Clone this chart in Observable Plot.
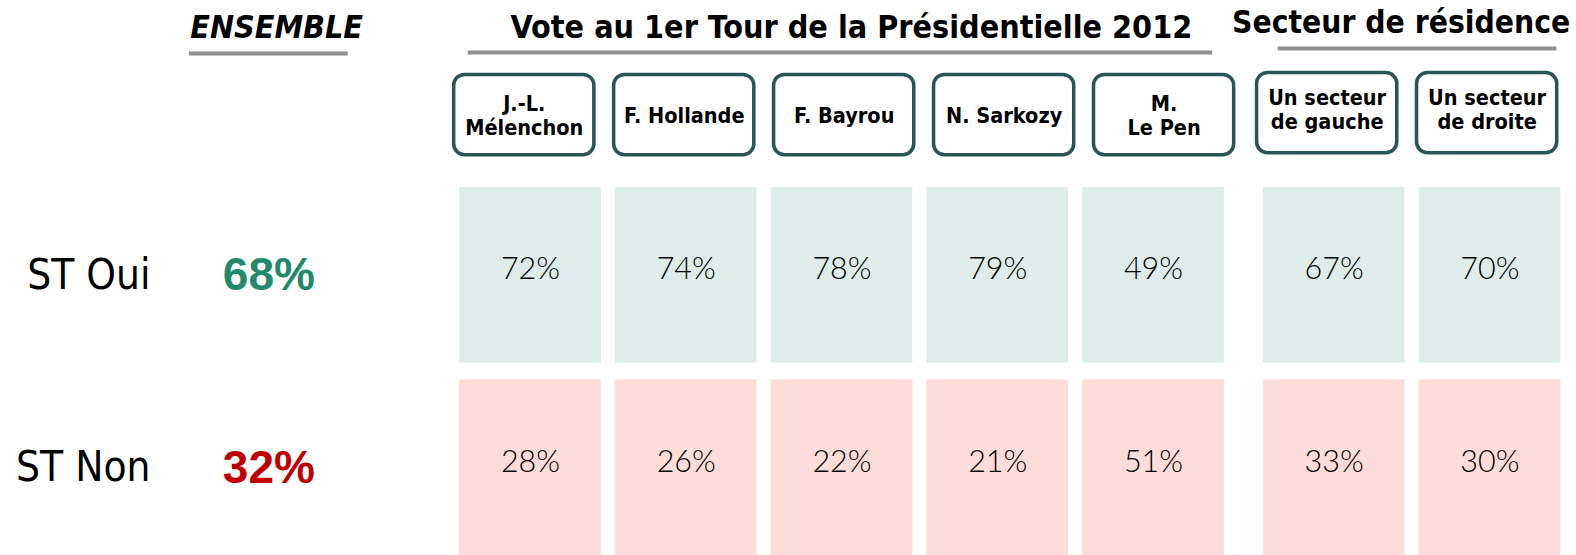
<!DOCTYPE html>
<html>
<head>
<meta charset="utf-8">
<script src="https://cdn.jsdelivr.net/npm/d3@7"></script>
<script src="https://cdn.jsdelivr.net/npm/@observablehq/plot@0.6"></script>
<style>
  html, body { margin: 0; padding: 0; background: #ffffff; }
  #chart svg { display: block; }
</style>
</head>
<body>
<div id="chart"></div>
<script>
// ---------- DATA ----------
const groupTitles = ["ENSEMBLE", "Vote au 1er Tour de la Présidentielle 2012", "Secteur de résidence"];
const columns = ["J.-L.\nMélenchon", "F. Hollande", "F. Bayrou", "N. Sarkozy", "M.\nLe Pen", "Un secteur\nde gauche", "Un secteur\nde droite"];
const columnGroup = [1, 1, 1, 1, 1, 2, 2];
const rows = ["ST Oui", "ST Non"];
const ensemble = [68, 32];
const stOui = [72, 74, 78, 79, 49, 67, 70];
const stNon = [28, 26, 22, 21, 51, 33, 30];

// ---------- LAYOUT (scale units) ----------
const GROUP_GAP = 0.16;           // extra gap before the "Secteur" group
const colU = i => i + (columnGroup[i] === 2 ? GROUP_GAP : 0);
const CELL_HALF = 0.455;
const ROW_H = 0.912;
const BOX_HALF = 0.45;
const boxU = i => -0.04 + 1.027 * i + (columnGroup[i] === 2 ? 0.02 : 0);
const ENS_U = -1.68;
const LABEL_U = -2.44;
// vertical units (row index space)
const Y_TITLE = [-0.779, -0.779, -0.805];
const Y_RULE = [-0.696, -0.701, -0.722];
const RULE_SPAN = [[-2.19, -1.17], [-0.40, 4.38], [4.80, 6.59]];
const TITLE_U = [-1.63, 2.06, 5.59];
const TITLE_SIZE = [32, 32, 31.5];
const BOX_Y1 = -0.585, BOX_Y2 = -0.168;
const BOX_TEXT_Y = [-0.374, -0.374, -0.405];

const COND = "'DejaVu Sans Condensed', 'DejaVu Sans', sans-serif";
const VALUE_FONT = "Lato, 'Open Sans', sans-serif";

const cells = rows.flatMap((row, r) => (r === 0 ? stOui : stNon).map((v, i) => ({row, r, i, v})));
const ens = rows.map((row, r) => ({row, r, v: ensemble[r]}));
const cols = columns.map((label, i) => ({label, i, g: columnGroup[i]}));
const grps = groupTitles.map((title, k) => ({title, k}));

const chart = Plot.plot({
  width: 1576,
  height: 555,
  margin: 0,
  style: {background: "#ffffff"},
  x: {type: "linear", domain: [0, 4], range: [530, 1153], axis: null},
  y: {type: "linear", domain: [0, 1], range: [187, 379.5], axis: null},
  marks: [
    // group titles
    Plot.text(grps.filter(d => d.k === 0), {
      x: d => TITLE_U[d.k], y: d => Y_TITLE[d.k], text: "title",
      lineAnchor: "bottom", fontFamily: COND, fontWeight: "bold", fontStyle: "italic",
      fontSize: TITLE_SIZE[0], fill: "#000"
    }),
    Plot.text(grps.filter(d => d.k === 1), {
      x: d => TITLE_U[d.k], y: d => Y_TITLE[d.k], text: "title",
      lineAnchor: "bottom", fontFamily: COND, fontWeight: "bold",
      fontSize: TITLE_SIZE[1], fill: "#000"
    }),
    Plot.text(grps.filter(d => d.k === 2), {
      x: d => TITLE_U[d.k], y: d => Y_TITLE[d.k], text: "title",
      lineAnchor: "bottom", fontFamily: COND, fontWeight: "bold",
      fontSize: TITLE_SIZE[2], fill: "#000"
    }),
    // underlines
    Plot.ruleY(grps, {
      y: d => Y_RULE[d.k], x1: d => RULE_SPAN[d.k][0], x2: d => RULE_SPAN[d.k][1],
      stroke: "#8e8e8e", strokeWidth: 4
    }),
    // column header boxes
    Plot.rect(cols, {
      x1: d => boxU(d.i) - BOX_HALF, x2: d => boxU(d.i) + BOX_HALF,
      y1: d => BOX_Y1 + (d.g === 2 ? -0.01 : 0), y2: d => BOX_Y2 + (d.g === 2 ? -0.01 : 0),
      rx: 11, ry: 11, fill: "#ffffff", stroke: "#2b5555", strokeWidth: 3.5
    }),
    Plot.text(cols, {
      x: d => boxU(d.i), y: d => BOX_TEXT_Y[d.g], text: "label",
      fontFamily: COND, fontWeight: "bold", fontSize: 21.5, lineHeight: 1.12, fill: "#000"
    }),
    // data cells
    Plot.rect(cells.filter(d => d.r === 0), {
      x1: d => colU(d.i) - CELL_HALF, x2: d => colU(d.i) + CELL_HALF,
      y1: d => d.r, y2: d => d.r + ROW_H, fill: "#deede9"
    }),
    Plot.rect(cells.filter(d => d.r === 1), {
      x1: d => colU(d.i) - CELL_HALF, x2: d => colU(d.i) + CELL_HALF,
      y1: d => d.r, y2: d => d.r + ROW_H, fill: "#fcddd9"
    }),
    Plot.text(cells, {
      x: d => colU(d.i), y: d => d.r + ROW_H / 2, text: d => d.v + "%",
      fontFamily: VALUE_FONT, fontWeight: 300, fontSize: 30.5, dy: -6, fill: "#000"
    }),
    // row labels
    Plot.text(rows, {
      x: LABEL_U, y: (d, r) => r + ROW_H / 2, text: d => d,
      textAnchor: "end", fontFamily: COND, fontSize: 42, fill: "#000"
    }),
    // ensemble values
    Plot.text(ens.filter(d => d.r === 0), {
      x: ENS_U, y: d => d.r + ROW_H / 2, text: d => d.v + "%",
      fontFamily: "'Liberation Sans', Arial, sans-serif", fontWeight: "bold", fontSize: 46, fill: "#22896a"
    }),
    Plot.text(ens.filter(d => d.r === 1), {
      x: ENS_U, y: d => d.r + ROW_H / 2, text: d => d.v + "%",
      fontFamily: "'Liberation Sans', Arial, sans-serif", fontWeight: "bold", fontSize: 46, fill: "#c00000"
    })
  ]
});
document.getElementById("chart").appendChild(chart);
</script>
</body>
</html>
